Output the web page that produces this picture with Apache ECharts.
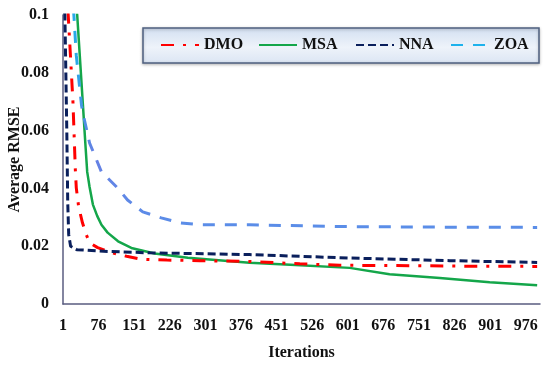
<!DOCTYPE html>
<html>
<head>
<meta charset="utf-8">
<script src="https://cdn.jsdelivr.net/npm/echarts@6/dist/echarts.min.js"></script>
<style>
html,body{margin:0;padding:0;background:#fff;}
#chart{width:550px;height:366px;}
</style>
</head>
<body>
<div id="chart"></div>
<script>
// Tick labels
const xTickLabels = [1, 76, 151, 226, 301, 376, 451, 526, 601, 676, 751, 826, 901, 976];
const seriesNames = ['DMO', 'MSA', 'NNA', 'ZOA'];

// Series values: [iteration, average RMSE]
const dmoData = [[1,0.125],[12,0.1],[17,0.085],[22,0.0698],[27,0.0464],[29,0.0402],[34,0.0336],[42,0.0281],[50,0.024],[57,0.0212],[74,0.0195],[103,0.0178],[135,0.0165],[166,0.0155],[220,0.0152],[289,0.015],[394,0.0147],[500,0.0139],[584,0.0134],[700,0.0133],[850,0.0131],[1000,0.013]];
const msaData = [[1,0.14],[25,0.11],[31,0.0998],[43,0.0688],[48,0.0557],[52,0.0457],[57,0.0405],[64,0.0344],[73,0.0305],[82,0.0274],[95,0.0247],[117,0.0217],[145,0.0194],[194,0.0175],[264,0.016],[394,0.0143],[480,0.0136],[605,0.0125],[689,0.0103],[795,0.009],[900,0.0075],[1000,0.0065]];
const nnaData = [[1,0.105],[5,0.1],[9,0.06],[11,0.035],[13,0.024],[17,0.02],[30,0.0188],[78,0.0183],[184,0.0177],[300,0.0174],[394,0.0171],[500,0.0165],[605,0.0159],[700,0.0155],[816,0.015],[900,0.0147],[1000,0.0144]];
const zoaData = [[1,0.14],[20,0.108],[24,0.0998],[29,0.086],[40,0.0688],[43,0.066],[57,0.0557],[82,0.0457],[114,0.0405],[137,0.036],[169,0.0319],[208,0.0298],[247,0.0281],[293,0.0274],[394,0.0274],[584,0.0268],[800,0.0266],[1000,0.0265]];

const FONT = '"Liberation Serif", "DejaVu Serif", serif';
const chart = echarts.init(document.getElementById('chart'), null, {renderer: 'canvas'});

const zoaGradient = new echarts.graphic.LinearGradient(0, 0, 0, 1, [
  {offset: 0, color: '#1EB2EC'},
  {offset: 0.5, color: '#2AA8E6'},
  {offset: 0.78, color: '#6680E4'},
  {offset: 1, color: '#5A8EE8'}
]);

function legendAt(name, left, color) {
  const item = {name: name};
  if (color) item.lineStyle = {color: color};
  return {
    data: [item],
    left: left, top: 37,
    itemWidth: 38, itemHeight: 14, itemGap: 0,
    itemStyle: {opacity: 0},
    textStyle: {fontFamily: FONT, fontWeight: 'bold', fontSize: 16, color: '#111'},
    padding: 0
  };
}

chart.setOption({
  animation: false,
  backgroundColor: '#ffffff',
  grid: {left: 63, right: 10, top: 15, bottom: 62, containLabel: false, outerBoundsMode: 'none'},
  graphic: [{
    type: 'rect', z: 1,
    shape: {x: 143, y: 28, width: 396, height: 35},
    style: {
      fill: new echarts.graphic.LinearGradient(0, 0, 0, 1, [
        {offset: 0, color: '#d2dff1'},
        {offset: 0.55, color: '#eef3fa'},
        {offset: 1, color: '#dbe5f3'}
      ]),
      stroke: '#4F6080', lineWidth: 1.5,
      shadowBlur: 3, shadowColor: 'rgba(0,0,0,0.25)', shadowOffsetY: 1
    }
  }],
  legend: [
    legendAt('DMO', 160),
    legendAt('MSA', 258),
    legendAt('NNA', 355),
    legendAt('ZOA', 450, '#1EB2EC')
  ],
  xAxis: {
    type: 'value', min: 1, max: 1006,
    name: 'Iterations', nameLocation: 'middle', nameGap: 41, nameMoveOverlap: false,
    nameTextStyle: {fontFamily: FONT, fontWeight: 'bold', fontSize: 16, color: '#111'},
    axisLine: {show: true, lineStyle: {color: '#5A5C80', width: 1.5}},
    axisTick: {show: false},
    splitLine: {show: false},
    axisLabel: {
      customValues: xTickLabels,
      margin: 14,
      fontFamily: FONT, fontWeight: 'bold', fontSize: 16, color: '#111'
    }
  },
  yAxis: {
    type: 'value', min: 0, max: 0.1, interval: 0.02,
    name: 'Average RMSE', nameLocation: 'middle', nameGap: 40, nameMoveOverlap: false,
    nameTextStyle: {fontFamily: FONT, fontWeight: 'bold', fontSize: 16, color: '#111'},
    axisLine: {show: true, lineStyle: {color: '#5A5C80', width: 1.5}},
    axisTick: {show: false},
    splitLine: {show: false},
    axisLabel: {margin: 14, fontFamily: FONT, fontWeight: 'bold', fontSize: 16, color: '#111'}
  },
  series: [
    {name: 'DMO', type: 'line', data: dmoData, symbol: 'none', smooth: false, z: 3,
     lineStyle: {color: '#FF0000', width: 3, type: [13, 9, 3, 9]}, itemStyle: {color: '#FF0000'}},
    {name: 'MSA', type: 'line', data: msaData, symbol: 'none', smooth: false, z: 2,
     lineStyle: {color: '#14A64A', width: 2.5, type: 'solid'}, itemStyle: {color: '#14A64A'}},
    {name: 'NNA', type: 'line', data: nnaData, symbol: 'none', smooth: false, z: 4,
     lineStyle: {color: '#0A1F5C', width: 3, type: [8, 4]}, itemStyle: {color: '#0A1F5C'}},
    {name: 'ZOA', type: 'line', data: zoaData, symbol: 'none', smooth: false, z: 2,
     lineStyle: {color: zoaGradient, width: 3, type: [12, 10]}, itemStyle: {color: '#1EB2EC'}}
  ]
});
</script>
</body>
</html>
